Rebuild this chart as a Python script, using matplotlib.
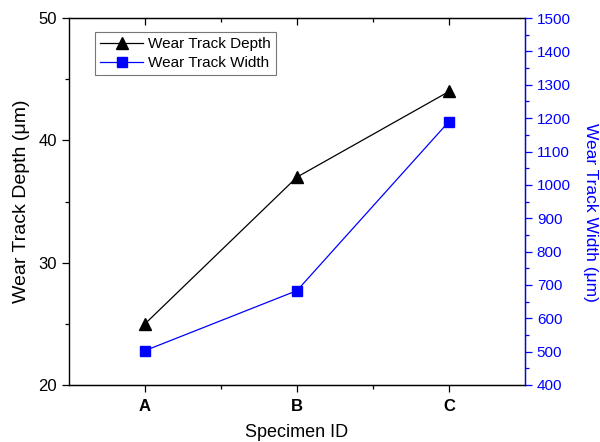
import numpy as np
import matplotlib
matplotlib.use('Agg')
import matplotlib.pyplot as plt
from matplotlib.ticker import MultipleLocator, FixedLocator

plt.rcParams['font.family'] = ['Liberation Sans', 'DejaVu Sans']

specimens = ['A', 'B', 'C']
depth_um = [25, 37, 44]
width_um = [503, 683, 1190]

x = np.arange(1, len(specimens) + 1)

fig = plt.figure(figsize=(6.0, 4.42), dpi=100)
ax = fig.add_axes([0.115, 0.129, 0.76, 0.83])
ax2 = ax.twinx()

l1, = ax.plot(x, depth_um, color='black', lw=0.9, marker='^', ms=8,
              label='Wear Track Depth')
l2, = ax2.plot(x, width_um, color='blue', lw=0.9, marker='s', ms=7,
               label='Wear Track Width')

ax.set_xlim(0.5, 3.5)
ax.set_ylim(20, 50)
ax2.set_ylim(400, 1500)

ax.set_xticks(x)
ax.set_xticklabels(specimens, fontweight='bold', fontsize=12)
ax.xaxis.set_minor_locator(FixedLocator([1.5, 2.5]))
ax.yaxis.set_major_locator(MultipleLocator(10))
ax.yaxis.set_minor_locator(MultipleLocator(5))
ax2.yaxis.set_major_locator(MultipleLocator(100))
ax2.yaxis.set_minor_locator(MultipleLocator(50))

ax.tick_params(axis='x', which='both', direction='out', top=True, bottom=True)
ax.tick_params(axis='x', which='major', length=5, width=0.9, pad=5)
ax.tick_params(axis='x', which='minor', length=3, width=0.9)
ax.tick_params(axis='y', which='major', length=5, width=0.9, labelsize=12)
ax.tick_params(axis='y', which='minor', length=3, width=0.9)
for t in ax.xaxis.get_ticklines(minor=False)[1::2] + ax.xaxis.get_ticklines(minor=True)[1::2]:
    t.set_marker(3)  # top ticks pointing into the plot

ax2.tick_params(axis='y', which='major', colors='blue', length=5, width=0.9, labelsize=11)
ax2.tick_params(axis='y', which='minor', colors='blue', length=3, width=0.9)
ax2.spines['right'].set_color('blue')
ax2.spines['right'].set_linewidth(1.0)
for s in ['left', 'top', 'bottom']:
    ax.spines[s].set_linewidth(1.0)
ax2.spines['left'].set_visible(False)

ax.set_ylabel('Wear Track Depth (μm)', fontsize=14, labelpad=6)
ax2.set_ylabel('Wear Track Width (μm)', fontsize=12.5, color='blue',
               rotation=270)
ax2.yaxis.set_label_coords(1.16, 0.47)
ax.set_xlabel('Specimen ID', fontsize=13, labelpad=7)

leg = ax.legend(handles=[l1, l2], loc='upper left', bbox_to_anchor=(0.057, 0.962),
                fontsize=11, frameon=True, fancybox=False, handlelength=2.8,
                borderpad=0.35, labelspacing=0.3, handletextpad=0.3,
                borderaxespad=0)
leg.get_frame().set_edgecolor('#555555')
leg.get_frame().set_linewidth(0.8)

fig.savefig('out.png', dpi=100)
